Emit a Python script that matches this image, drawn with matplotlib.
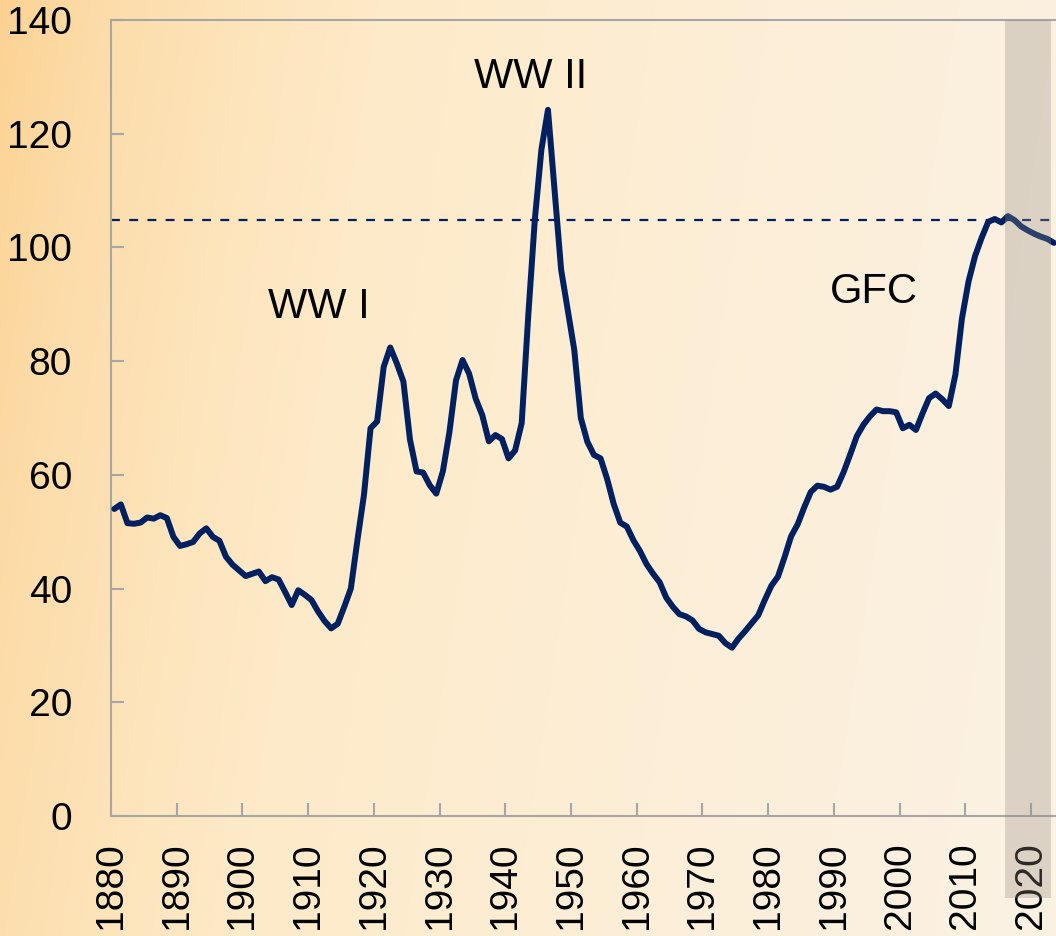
import numpy as np
import matplotlib
matplotlib.use("Agg")
import matplotlib.pyplot as plt
from matplotlib.patches import Rectangle
import matplotlib.transforms as mtransforms

plt.rcParams['font.family'] = ['Liberation Sans', 'DejaVu Sans']

# ---------------- data ----------------
years = list(range(1880, 2024))
values = [
    54.0, 54.8, 51.5, 51.4, 51.6, 52.5, 52.3, 52.9, 52.4, 49.1,   # 1880-1889
    47.5, 47.8, 48.2, 49.7, 50.6, 49.1, 48.4, 45.6, 44.2, 43.2,   # 1890-1899
    42.2, 42.6, 43.0, 41.3, 42.0, 41.6, 39.4, 37.1, 39.7, 38.9,   # 1900-1909
    38.0, 36.0, 34.3, 33.0, 33.8, 36.8, 40.0, 48.5, 56.5, 68.2,   # 1910-1919
    69.4, 79.0, 82.4, 79.6, 76.4, 66.2, 60.6, 60.4, 58.2, 56.7,   # 1920-1929
    60.6, 67.5, 76.6, 80.2, 77.8, 73.4, 70.5, 65.9, 67.0, 66.3,   # 1930-1939
    62.9, 64.3, 69.1, 88.0, 104.9, 117.2, 124.2, 110.2, 96.1, 89.0,  # 1940-1949
    82.0, 70.0, 65.8, 63.5, 62.9, 59.3, 54.9, 51.6, 50.9, 48.5,   # 1950-1959
    46.6, 44.3, 42.6, 41.1, 38.4, 36.8, 35.5, 35.1, 34.4, 32.9,   # 1960-1969
    32.3, 32.0, 31.7, 30.4, 29.6, 31.2, 32.5, 33.9, 35.3, 38.0,   # 1970-1979
    40.5, 42.1, 45.5, 49.2, 51.3, 54.3, 57.0, 58.1, 57.9, 57.4,   # 1980-1989
    57.9, 60.5, 63.6, 66.8, 68.8, 70.3, 71.5, 71.2, 71.2, 71.0,   # 1990-1999
    68.2, 68.8, 67.9, 70.8, 73.5, 74.3, 73.3, 72.1, 77.6, 87.5,   # 2000-2009
    94.0, 98.5, 101.7, 104.5, 105.0, 104.4, 105.5, 104.8, 103.7, 103.0,  # 2010-2019
    102.4, 101.9, 101.5, 100.8,                                    # 2020-2023
]
reference_level = 104.8
projection_span = (2016.0, 2023.0)
x_ticks = list(range(1880, 2021, 10))
y_ticks = list(range(0, 141, 20))
annotations = [("WW I", 1911.6, 89.6), ("WW II", 1943.8, 129.9), ("GFC", 1996.1, 92.2)]

# ---------------- figure ----------------
W, H = 1056, 936
fig = plt.figure(figsize=(W / 100, H / 100), dpi=100)

# background gradient (orange at left -> cream at right, slight diagonal)
bg = fig.add_axes([0, 0, 1, 1], zorder=-10)
gx, gy = np.meshgrid(np.linspace(0, 1, 400), np.linspace(0, 1, 360))
t = np.clip(0.88 * gx + 0.12 * gy, 0, 1)
t = t ** 0.6
c0 = np.array([251, 208, 142]) / 255
c1 = np.array([254, 234, 200]) / 255
c2 = np.array([251, 242, 228]) / 255
img = np.empty(t.shape + (3,))
m = t < 0.5
for k in range(3):
    img[..., k] = np.where(m, c0[k] + (c1[k] - c0[k]) * (t / 0.5),
                           c1[k] + (c2[k] - c1[k]) * ((t - 0.5) / 0.5))
bg.imshow(img, extent=[0, 1, 0, 1], aspect='auto', origin='upper')
bg.set_axis_off()

left = 111 / W
bottom = (H - 816) / H
top = (H - 20) / H
xmin, xmax = 1880, 2024.2
right_px = 111 + (xmax - xmin) * 6.571
ax = fig.add_axes([left, bottom, (right_px - 111) / W, top - bottom])
ax.set_facecolor('none')

x = np.array(years) + 0.5
ax.plot(x, values, color='#002060', lw=4.3, solid_joinstyle='round',
        solid_capstyle='round', zorder=3)
ax.axhline(reference_level, color='#002060', lw=1.6, dashes=(4, 4.2), zorder=2)

trans = mtransforms.blended_transform_factory(ax.transData, ax.transAxes)
shade_bottom = -(898 - 816) / 796
rect = Rectangle((projection_span[0], shade_bottom),
                 projection_span[1] - projection_span[0], 1 - shade_bottom,
                 transform=trans, facecolor='#928c84', alpha=0.3,
                 edgecolor='none', clip_on=False, zorder=5)
ax.add_patch(rect)

for label, tx, ty in annotations:
    ax.text(tx, ty, label, fontsize=30, ha='center', va='center', color='black')

ax.set_xlim(xmin, xmax)
ax.set_ylim(0, 140)
ax.set_xticks(x_ticks)
ax.set_xticklabels([str(v) for v in x_ticks], rotation=90)
ax.set_yticks(y_ticks)
ax.set_yticklabels([str(v) for v in y_ticks])

spine_c = '#a6a6a6'
for s in ['left', 'bottom', 'top']:
    ax.spines[s].set_color(spine_c)
    ax.spines[s].set_linewidth(1.5)
ax.spines['right'].set_visible(False)

ax.tick_params(axis='both', direction='in', length=9.4, width=1.5,
               color=spine_c, labelsize=28, labelcolor='black')
ax.tick_params(axis='y', pad=28)
ax.tick_params(axis='x', pad=19)

fig.savefig('out.png', dpi=100)
